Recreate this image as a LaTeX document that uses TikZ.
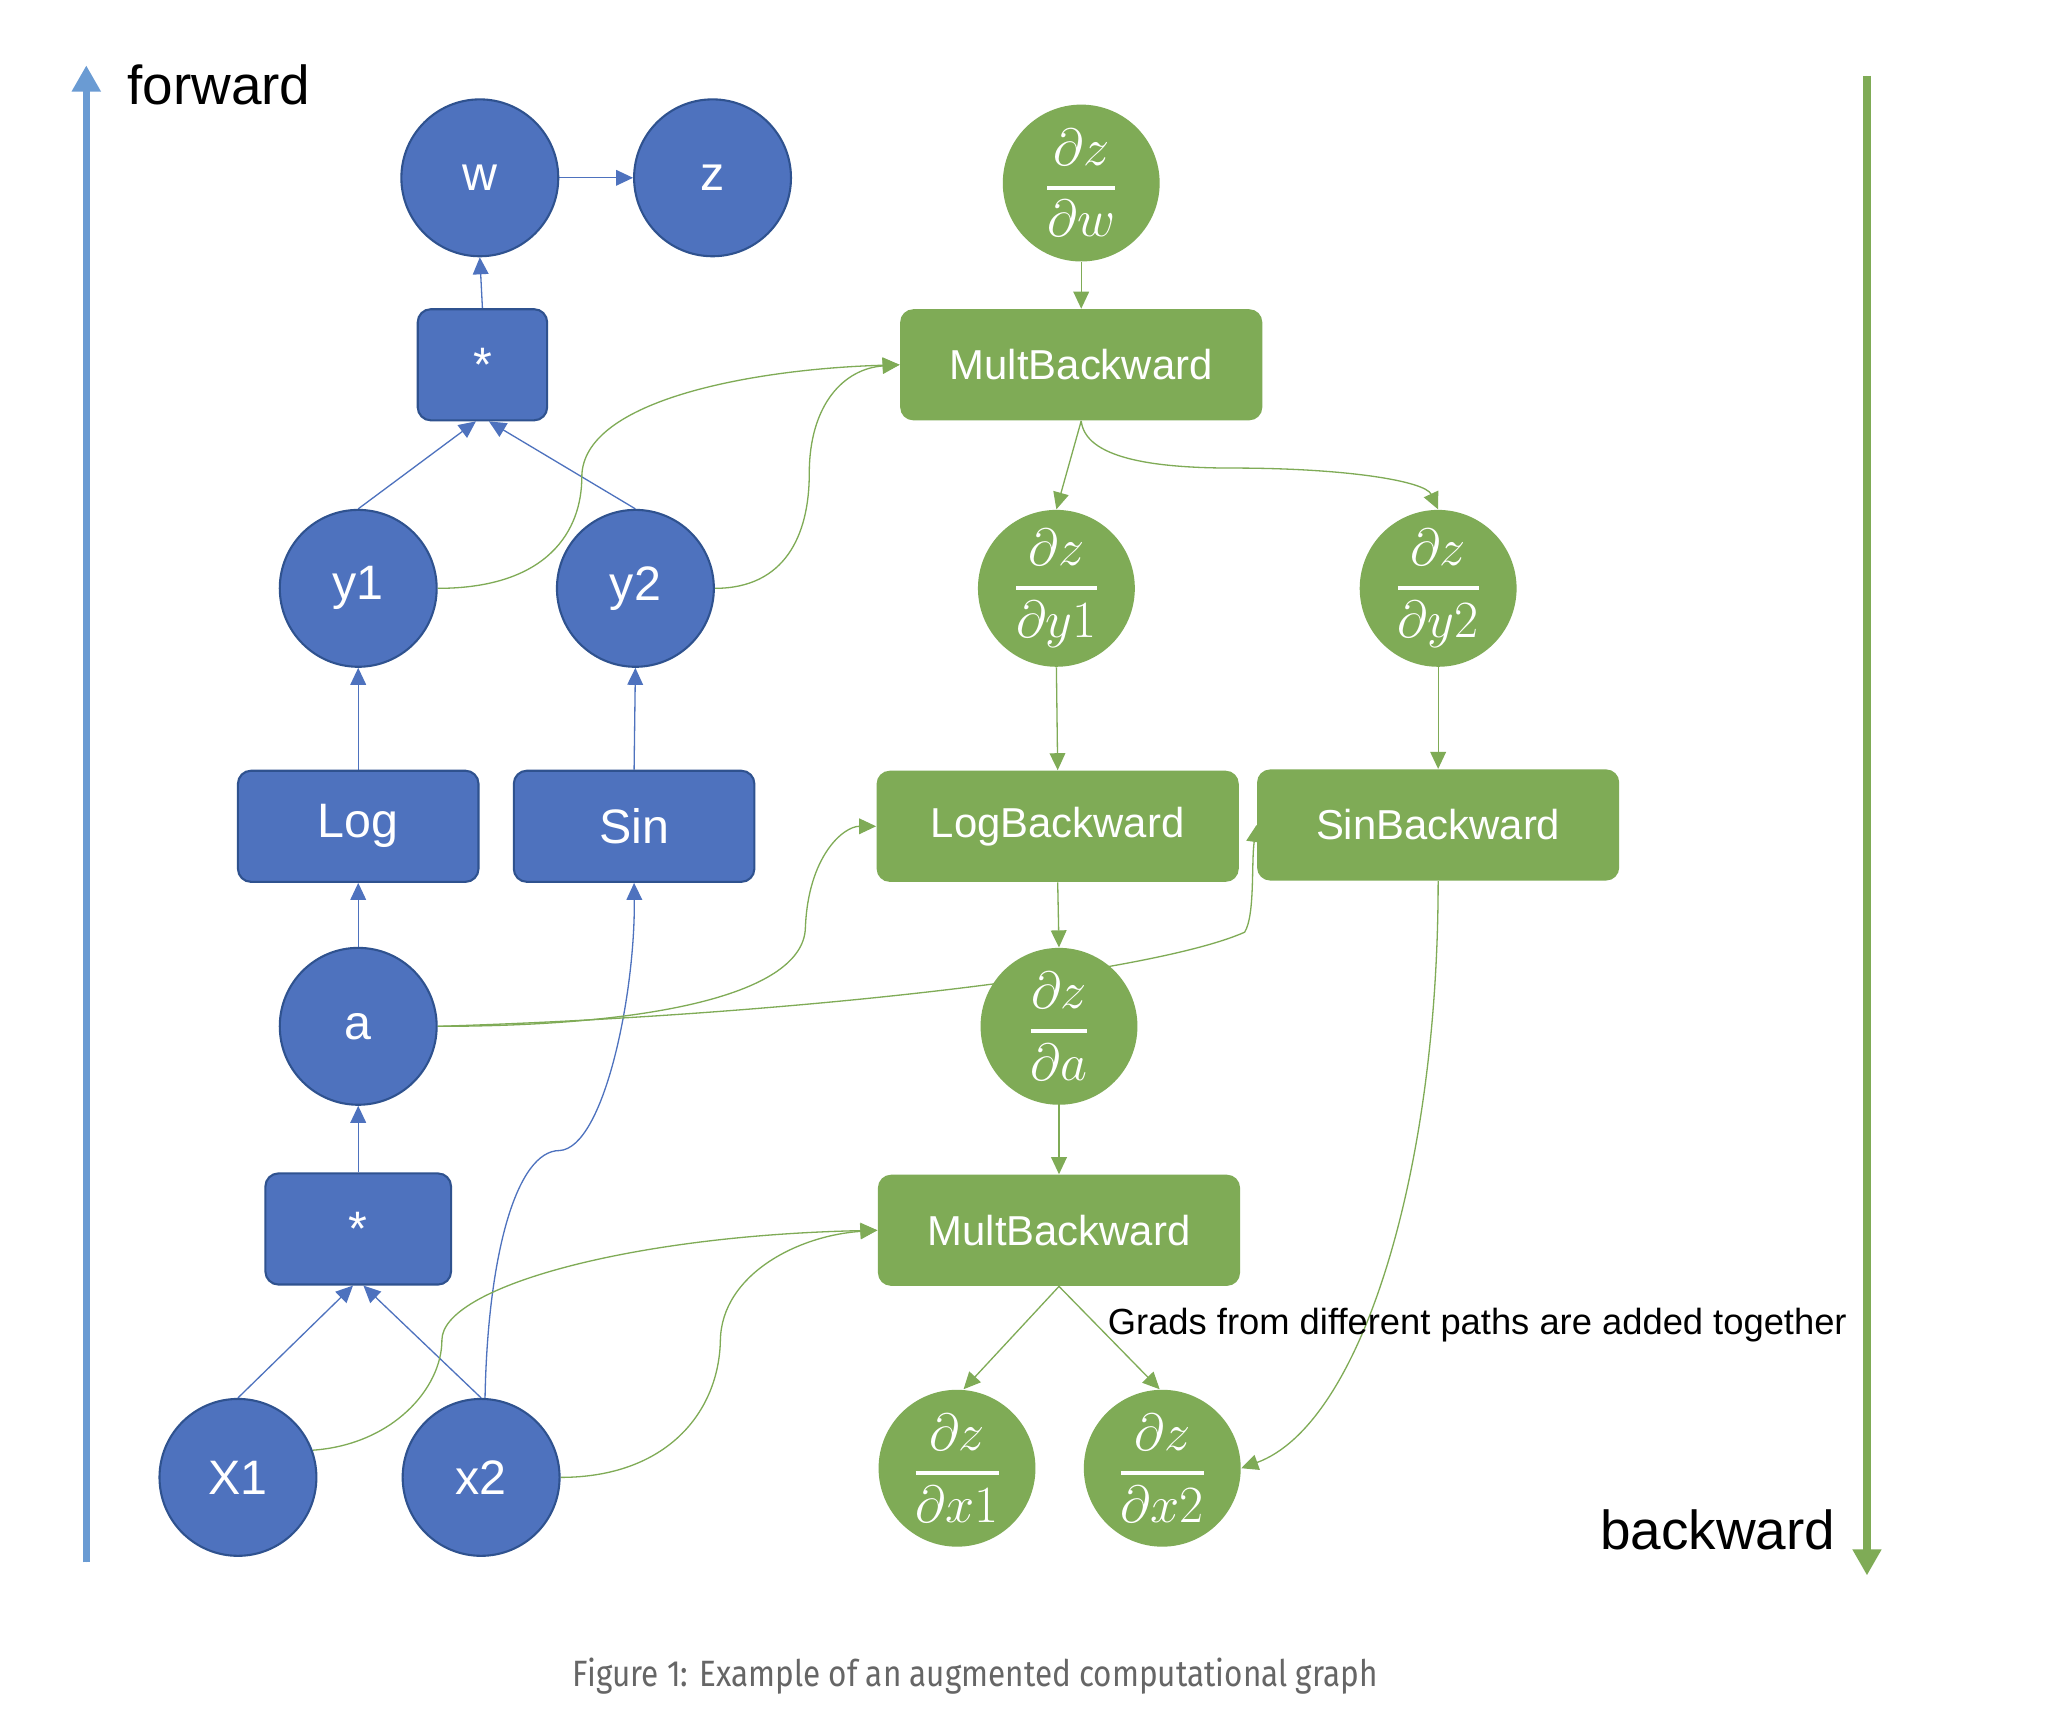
\RequirePackage{fix-cm}
\documentclass[tikz,border=0pt]{standalone}
\usepackage{amsmath}
\usepackage{fontspec}
\newfontfamily\arialf{Liberation Sans}
\newfontfamily\capfont[FakeStretch=0.86]{Fira Sans}
\usetikzlibrary{arrows.meta}
\definecolor{nblue}{HTML}{4E72BE}
\definecolor{bblue}{HTML}{2F528F}
\definecolor{ngreen}{HTML}{7FAB56}
\definecolor{fwdblue}{HTML}{6A9BD3}
\definecolor{capgray}{HTML}{666666}
\newcommand\gradfrac[1]{\genfrac{}{}{1.4pt}{0}{\partial z}{\partial #1}}
\pgfdeclarelayer{bg}
\pgfsetlayers{bg,main}
\tikzset{
  bcirc/.style={circle, fill=nblue, draw=bblue, line width=0.8pt, minimum size=60pt, inner sep=0pt, text=white, font=\arialf\fontsize{18.5}{20}\selectfont},
  brect/.style={rectangle, rounded corners=5pt, fill=nblue, draw=bblue, line width=0.8pt, minimum height=42.5pt, inner sep=0pt, text=white, font=\arialf\fontsize{18.5}{20}\selectfont},
  gcirc/.style={circle, fill=ngreen, minimum size=60pt, inner sep=0pt, text=white, font=\fontsize{20}{22}\selectfont},
  grect/.style={rectangle, rounded corners=5pt, fill=ngreen, minimum width=138.5pt, minimum height=42.5pt, inner sep=0pt, text=white, font=\arialf\fontsize{16}{19}\selectfont},
  bedge/.style={draw=nblue, line width=0.5pt, -{Triangle[length=6.5pt,width=6pt]}},
  gedge/.style={draw=ngreen, line width=0.5pt, -{Triangle[length=6.5pt,width=6pt]}},
  bigarrow/.style={line width=2.8pt, -{Triangle[length=10pt,width=10.5pt]}},
  lbl/.style={inner sep=0pt, text=black, font=\arialf\fontsize{21}{24}\selectfont}
}
\begin{document}
\begin{tikzpicture}[x=0.5pt,y=-0.5pt]
\useasboundingbox (0,0) rectangle (1568,1313);

% forward / backward arrows
\coordinate (f0) at (66,1195);
\coordinate (f1) at (66,50);
\coordinate (b0) at (1428,58);
\coordinate (b1) at (1428,1205);
\draw[bigarrow, draw=fwdblue, fill=fwdblue] (f0) -- (f1);
\draw[bigarrow, draw=ngreen, fill=ngreen] (b0) -- (b1);
\node[lbl, anchor=base west] (fw) at (97,80) {forward};
\node[lbl, anchor=base east] (bw) at (1404,1185) {backward};

% blue nodes
\node[bcirc] (w) at (367,136) {w};
\node[bcirc] (z) at (545,136) {z};
\node[brect, minimum width=49.5pt] (mt) at (369,279) {*};
\node[bcirc] (y1) at (274,450) {y1};
\node[bcirc] (y2) at (486,450) {y2};
\node[brect, minimum width=92pt] (log) at (274,632) {Log};
\node[brect, minimum width=92pt] (sin) at (485,632) {Sin};
\node[bcirc] (a) at (274,785) {a};
\node[brect, minimum width=71pt] (mb) at (274,940) {*};
\node[bcirc] (x1) at (182,1130) {X1};
\node[bcirc] (x2) at (368,1130) {x2};

% green nodes
\node[gcirc] (gw) at (827,140) {$\gradfrac{w}$};
\node[grect] (MB1) at (827,279) {MultBackward};
\node[gcirc] (gy1) at (808,450) {$\gradfrac{y1}$};
\node[gcirc] (gy2) at (1100,450) {$\gradfrac{y2}$};
\node[grect] (LB) at (809,632) {LogBackward};
\node[grect] (SB) at (1100,631) {SinBackward};
\node[gcirc] (ga) at (810,785) {$\gradfrac{a}$};
\node[grect] (MB2) at (810,941) {MultBackward};
\node[gcirc] (gx1) at (732,1123) {$\gradfrac{x1}$};
\node[gcirc] (gx2) at (889,1123) {$\gradfrac{x2}$};

\node[inner sep=0pt, anchor=base west, font=\arialf\fontsize{13.9}{16}\selectfont] (note) at (847,1021) {Grads from different paths are added together};
\node[inner sep=0pt, anchor=base, text=capgray, font=\capfont\fontsize{14}{16}\selectfont] (cap) at (746,1290) {Figure 1: Example of an augmented computational graph};

\begin{pgfonlayer}{bg}
\fill[white] (0,0) rectangle (1568,1313);
% blue edges
\draw[bedge] (w) -- (z);
\draw[bedge] (mt.north) -- (w.south);
\draw[bedge] (y1.north) -- ([xshift=-2.5pt]mt.south);
\draw[bedge] (y2.north) -- ([xshift=2.5pt]mt.south);
\draw[bedge] (log.north) -- (y1.south);
\draw[bedge] (sin.north) -- (y2.south);
\draw[bedge] (a.north) -- (log.south);
\draw[bedge] (mb.north) -- (a.south);
\draw[bedge] (x1.north) -- ([xshift=-2pt]mb.south);
\draw[bedge] (x2.north) -- ([xshift=2pt]mb.south);
\draw[bedge] ([xshift=1.5pt]x2.north) .. controls (373,960) and (395,880) .. (428,880) .. controls (462,878) and (486,760) .. (sin.south);

% green edges
\draw[gedge] (gw.south) -- (MB1.north);
\draw[gedge] (y1.east) .. controls (420,450) and (445,405) .. (445,365) .. controls (445,305) and (580,282) .. (MB1.west);
\draw[gedge] (y2.east) .. controls (600,450) and (619,410) .. (619,362) .. controls (619,310) and (645,282) .. (MB1.west);
\draw[gedge] (MB1.south) -- (gy1.north);
\draw[gedge] (MB1.south) .. controls (830,350) and (880,358) .. (943,358) .. controls (1030,358) and (1090,368) .. (gy2.north);
\draw[gedge] (gy1.south) -- (LB.north);
\draw[gedge] (gy2.south) -- (SB.north);
\draw[gedge] (a.east) .. controls (500,785) and (614,760) .. (616,710) .. controls (618,655) and (645,632) .. (LB.west);
\draw[gedge] (a.east) .. controls (600,777) and (880,745) .. (952,713) .. controls (960,700) and (957,660) .. (SB.west);
\draw[gedge] (LB.south) -- (ga.north);
\draw[gedge] (ga.south) -- (MB2.north);
\draw[gedge] (x1.20) .. controls (300,1105) and (338,1062) .. (338,1025) .. controls (338,985) and (480,945) .. (MB2.west);
\draw[gedge] (x2.east) .. controls (510,1130) and (550,1080) .. (551,1025) .. controls (552,975) and (610,945) .. (MB2.west);
\draw[gedge] (SB.south) .. controls (1100,900) and (1040,1090) .. (gx2.east);
\draw[gedge] (MB2.south) -- ([xshift=2.5pt]gx1.north);
\draw[gedge] (MB2.south) -- ([xshift=-1pt]gx2.north);
\end{pgfonlayer}
\end{tikzpicture}
\end{document}
